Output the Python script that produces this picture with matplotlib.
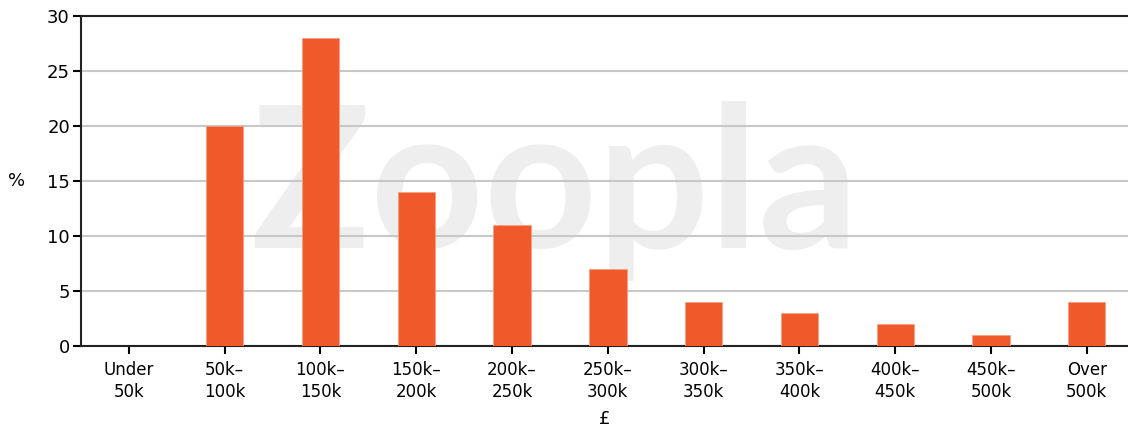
import numpy as np
import matplotlib.pyplot as plt

# price bands and share of sales (%)
bands = ["Under\n50k", "50k\u2013\n100k", "100k\u2013\n150k", "150k\u2013\n200k", "200k\u2013\n250k",
         "250k\u2013\n300k", "300k\u2013\n350k", "350k\u2013\n400k", "400k\u2013\n450k",
         "450k\u2013\n500k", "Over\n500k"]
share = [0, 20, 28, 14, 11, 7, 4, 3, 2, 1, 4]
yticks = [0, 5, 10, 15, 20, 25, 30]

fig = plt.figure(figsize=[11.28, 4.33], dpi=100)
ax = fig.add_axes([81/1128, 1 - 346/433, (1128 - 81)/1128, (346 - 16)/433])

x = np.arange(len(bands))
ax.bar(x, share, width=0.39, color="#f05a2b", edgecolor="#f7a080", linewidth=0.6, zorder=3)

# watermark
ax.text(4.45, 8.9, "Zoopla", ha="center", va="baseline",
        fontsize=142, fontweight="bold", color="#eeeeee", family="Lato", zorder=1)

ax.set_xlim(-0.5, 10.43)
ax.set_ylim(0, 30)
ax.set_yticks(yticks)
ax.set_xticks(x)
ax.set_xticklabels(bands, fontsize=12, linespacing=1.25)
ax.tick_params(axis="y", labelsize=13, length=6, width=1.5, direction="out", pad=2)
ax.tick_params(axis="x", length=6, width=1.5, direction="out", pad=5)
ax.grid(axis="y", color="#c8c8c8", linewidth=1.5, zorder=2)

for s in ["left", "bottom", "top"]:
    ax.spines[s].set_linewidth(1.5)
    ax.spines[s].set_color("#222222")
ax.spines["right"].set_visible(False)

ax.set_ylabel("%", rotation=0, fontsize=13, labelpad=22, va="center")
ax.set_xlabel("\u00a3", fontsize=13, labelpad=7)

fig.savefig("out.png", dpi=100)
